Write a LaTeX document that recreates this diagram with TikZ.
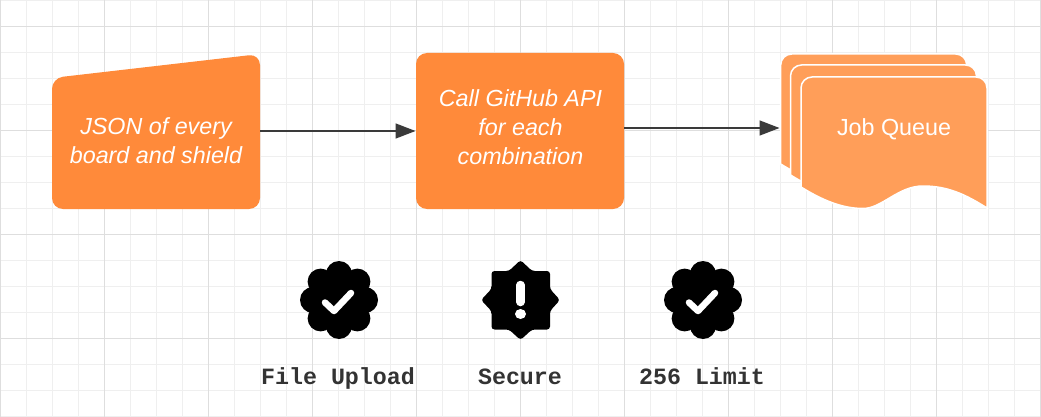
\documentclass[tikz,border=0pt]{standalone}
\usepackage{fontspec}
\setmainfont{Liberation Sans}
\setmonofont{Liberation Mono}
\usetikzlibrary{arrows.meta}
\definecolor{boxor}{HTML}{FF8A3A}
\definecolor{docor}{HTML}{FF9E59}
\definecolor{gridminor}{HTML}{EFEFEF}
\definecolor{gridmajor}{HTML}{DEDEDE}
\definecolor{linegray}{HTML}{3A3A3A}
\definecolor{monotext}{HTML}{333333}
\tikzset{
  boxtext/.style={text=white,font=\fontsize{23.3}{29}\selectfont\itshape,align=center,inner sep=0pt},
  doctext/.style={text=white,font=\fontsize{23.3}{29}\selectfont,inner sep=0pt},
  labeltext/.style={text=monotext,font=\fontsize{23.3}{28}\selectfont\ttfamily\bfseries,inner sep=0pt,anchor=base},
  conn/.style={draw=linegray,line width=1.5pt,-{Stealth[length=20pt,width=15pt,inset=0pt]}},
  docshape/.style={fill=docor,draw=white,line width=1.5pt},
  checkmark/.style={draw=white,line width=6.5pt,line cap=round,line join=round},
}
\newcommand{\docpath}[2]{%
  \path[docshape,shift={(#1,#2)}] (801,187)
  [rounded corners=11pt] -- (801,77) -- (987,77) [sharp corners] -- (987,208)
  .. controls (965,194) and (947,186) .. (923,186)
  .. controls (898,186) and (882,208.5) .. (863,208.5)
  .. controls (842,208.5) and (822,200) .. (801,187) -- cycle;}
\newcommand{\scallop}[2]{%
  \fill[black] (#1,#2) circle[radius=30];
  \foreach \a in {0,45,...,315}{\fill[black] (#1,#2) ++(\a:26) circle[radius=13];}}
\begin{document}
\begin{tikzpicture}[x=1pt,y=-1pt]
\useasboundingbox (0,0) rectangle (1041,417);
\fill[white] (0,0) rectangle (1041,417);
% grid
\foreach \x in {0,26,...,1040}{\draw[gridminor,line width=1pt] (\x+.5,0) -- (\x+.5,417);}
\foreach \y in {0,26,...,416}{\draw[gridminor,line width=1pt] (0,\y+.5) -- (1041,\y+.5);}
\foreach \x in {0,104,...,1040}{\draw[gridmajor,line width=1pt] (\x+.5,0) -- (\x+.5,417);}
\foreach \y in {26,130,234,338}{\draw[gridmajor,line width=1pt] (0,\y+.5) -- (1041,\y+.5);}
% manual input shape
\fill[boxor,rounded corners=11pt] (52,78) -- (260,54) -- (260,209) -- (52,209) -- cycle;
\node[boxtext] (json) at (156,140.5) {JSON of every\\board and shield};
% process shape
\fill[boxor,rounded corners=11pt] (416,53) rectangle (624,209);
\node[boxtext] (api) at (520.5,127.5) {Call GitHub API\\for each\\combination};
% document stack
\docpath{-20.3}{-23}
\docpath{-10.5}{-12}
\docpath{0}{0}
\node[doctext] (queue) at (894,129) {Job Queue};
% connector anchors
\coordinate (jsonout) at (260,131);
\coordinate (jsonin) at (415.5,131);
\coordinate (apiout) at (624,128);
\coordinate (queuein) at (779.5,128);
\draw[conn] (jsonout) -- (jsonin);
\draw[conn] (apiout) -- (queuein);
% badges
\scallop{339}{300}
\draw[checkmark] (325,302.5) -- (334,311) -- (351,293);
\fill[black,rounded corners=3pt] (520.5,260) -- (532,271) -- (550,271) -- (550,289) -- (560,300) -- (550,311) -- (550,329.5) -- (532,329.5) -- (520.5,340) -- (509,329.5) -- (491.5,329.5) -- (491.5,311) -- (481,300) -- (491.5,289) -- (491.5,271) -- (509,271) -- cycle;
\draw[white,line width=8.5pt,line cap=round] (520.5,285) -- (520.5,302);
\fill[white] (520.5,314) ellipse[x radius=5.5,y radius=5];
\scallop{703}{300}
\draw[checkmark] (689,302.5) -- (698,311) -- (715,293);
% labels
\node[labeltext] (l1) at (338,384) {File Upload};
\node[labeltext] (l2) at (520,384) {Secure};
\node[labeltext] (l3) at (702,384) {256 Limit};
\end{tikzpicture}
\end{document}
